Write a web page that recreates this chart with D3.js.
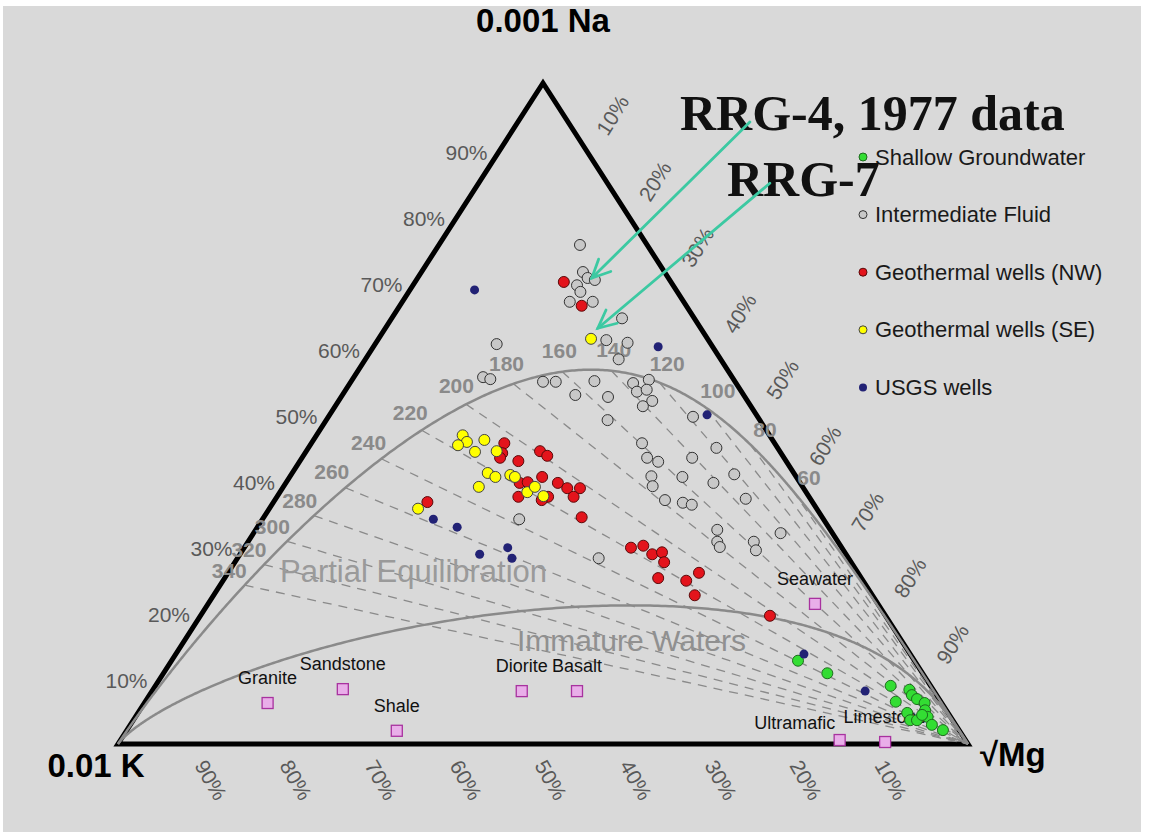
<!DOCTYPE html>
<html lang="en">
<head>
<meta charset="UTF-8" />
<title>Na-K-Mg Giggenbach diagram</title>
<script src="https://d3js.org/d3.v7.min.js"></script>
<style>
    body { margin: 0; background: #fff; }
    svg { display: block; font-family: "Liberation Sans", Arial, sans-serif; }
</style>
</head>
<body>
<svg id="chart" width="1150" height="839"></svg>
<script>
// ---- data, all as [Na%, K%, Mg%] in the 0.001Na / 0.01K / sqrt(Mg) system ----
const shallowGroundwater = [
    [12.6, 13.7, 73.7], [10.7, 11.2, 78.1], [8.8, 4.7, 86.5], [6.4, 5.3, 88.3],
    [8.2, 2.8, 89.0], [7.4, 2.9, 89.7], [6.8, 2.6, 90.6], [6.2, 2.0, 91.8],
    [5.1, 2.5, 92.4], [4.1, 2.7, 93.2], [4.7, 4.8, 90.5], [3.6, 5.0, 91.4],
    [3.6, 4.2, 92.2], [2.9, 2.8, 94.3], [2.1, 1.9, 96.0], [4.4, 3.2, 92.4]
];
const intermediateFluid = [
    [75.5, 7.9, 16.6], [71.4, 9.6, 19.0], [69.4, 11.3, 19.3], [70.5, 9.5, 20.0],
    [70.2, 8.8, 21.0], [68.4, 11.4, 20.2], [66.9, 13.4, 19.7], [66.9, 10.7, 22.4],
    [64.4, 8.5, 27.1], [61.1, 12.0, 26.9], [60.7, 9.7, 29.6], [58.2, 12.0, 29.8],
    [60.5, 25.2, 14.3], [55.5, 29.3, 15.2], [55.2, 28.6, 16.2], [54.8, 22.6, 22.6],
    [54.8, 21.1, 24.1], [54.9, 16.5, 28.6], [52.8, 19.8, 27.4], [52.5, 16.1, 31.4],
    [54.6, 12.1, 33.3], [55.1, 10.0, 34.9], [53.3, 12.3, 34.4], [53.6, 11.0, 35.4],
    [51.9, 11.2, 36.9], [51.1, 12.7, 36.2], [49.0, 17.9, 33.1], [49.5, 7.6, 42.9],
    [45.5, 15.6, 38.9], [43.3, 16.1, 40.6], [42.7, 15.1, 42.2], [43.3, 10.8, 45.9],
    [44.8, 7.2, 48.0], [40.5, 17.0, 42.5], [39.0, 17.6, 43.4], [40.4, 13.4, 46.2],
    [39.5, 10.2, 50.3], [40.8, 7.1, 52.1], [36.9, 17.2, 45.9], [36.5, 15.3, 48.2],
    [36.2, 14.4, 49.4], [37.1, 7.6, 55.3], [32.4, 13.3, 54.3], [30.6, 14.2, 55.2],
    [29.8, 14.3, 55.9], [30.6, 9.9, 59.5], [29.3, 10.3, 60.4], [31.9, 6.1, 62.0],
    [28.1, 29.4, 42.5], [34.0, 35.8, 30.2]
];
const geothermalNW = [
    [69.9, 12.6, 17.5], [66.3, 12.3, 21.4], [45.5, 31.8, 22.7], [44.0, 32.8, 23.2],
    [43.3, 33.4, 23.3], [42.8, 31.5, 25.7], [44.3, 28.2, 27.5], [43.6, 27.7, 28.7],
    [40.4, 29.9, 29.7], [39.5, 28.5, 32.0], [38.7, 27.8, 33.5], [38.7, 26.3, 35.0],
    [37.4, 27.7, 34.9], [39.5, 33.0, 27.5], [39.6, 32.0, 28.4], [37.4, 34.2, 28.4],
    [37.4, 30.7, 31.9], [36.9, 31.7, 31.4], [34.3, 28.3, 37.4], [36.6, 45.3, 18.1],
    [29.7, 24.8, 45.5], [30.0, 23.2, 46.8], [28.7, 22.8, 48.5], [29.0, 21.5, 49.5],
    [27.5, 22.0, 50.5], [25.1, 23.9, 51.0], [24.7, 20.8, 54.5], [25.9, 18.7, 55.4],
    [22.5, 20.9, 56.6], [19.4, 13.6, 67.0]
];
const geothermalSE = [
    [61.3, 13.7, 25.0], [46.7, 36.1, 17.2], [45.7, 36.1, 18.2], [45.2, 37.4, 17.4],
    [46.0, 33.9, 20.1], [44.2, 35.9, 19.9], [44.3, 33.3, 22.4], [41.0, 36.0, 23.0],
    [40.4, 35.4, 24.2], [40.7, 33.5, 25.8], [40.4, 33.1, 26.5], [38.9, 38.1, 23.0],
    [38.1, 32.8, 29.1], [38.9, 31.5, 29.6], [37.5, 31.2, 31.3], [35.6, 46.9, 17.5]
];
const usgsWells = [
    [68.7, 23.7, 7.6], [60.1, 6.4, 33.5], [49.8, 5.8, 44.4], [34.0, 45.9, 20.1],
    [32.8, 43.7, 23.5], [28.7, 43.1, 28.2], [29.7, 39.3, 31.0], [28.1, 39.6, 32.3],
    [13.6, 12.5, 73.9], [8.0, 8.1, 83.9]
];
const rockNames = ["Granite", "Sandstone", "Shale", "Diorite", "Basalt", "Seawater", "Ultramafic", "Limestone"];
const rockValues = [
    [6.2, 79.3, 14.5], [8.3, 69.4, 22.3], [2.0, 66.2, 31.8], [8.0, 48.5, 43.5],
    [8.0, 42.0, 50.0], [21.2, 7.4, 71.4], [0.6, 14.8, 84.6], [0.3, 9.6, 90.1]
];
// RRG-4 (1977) and RRG-7 samples the arrows point at
const arrowTargets = [[70.5, 9.0, 20.5], [62.9, 12.1, 25.0]];
const arrowLabels = ["RRG-4, 1977 data", "RRG-7"];

const isoTemps = [60, 80, 100, 120, 140, 160, 180, 200, 220, 240, 260, 280, 300, 320, 340];
const pctTicks = [10, 20, 30, 40, 50, 60, 70, 80, 90];
const seriesNames = ["Shallow Groundwater", "Intermediate Fluid", "Geothermal wells (NW)", "Geothermal wells (SE)", "USGS wells"];

// ---- layout ----
const svg = d3.select("#chart");
svg.append("rect").attr("x", 3).attr("y", 6).attr("width", 1138).attr("height", 826).attr("fill", "#d9d9d9");

const x = d3.scaleLinear().domain([0, 1]).range([118, 968]);
const y = d3.scaleLinear().domain([0, 1]).range([744, 83]);

// ternary -> screen: Na on top, K bottom left, Mg bottom right
function proj(d) {
    const s = d[0] + d[1] + d[2];
    const na = d[0] / s, mg = d[2] / s;
    return [x(mg + na / 2), y(na)];
}

// Giggenbach (1988) geothermometers, K = 1 mg/kg
function eqPoint(T, mi) {
    const logKNa = 1.75 - 1390 / T;
    const logK2Mg = mi == null ? 14.0 - 4410 / T : (mi + logKNa) / 0.315;
    const na = Math.pow(10, -logKNa) / 1000;
    const sqrtMg = Math.sqrt(Math.pow(10, -logK2Mg));
    return [na, 0.01, sqrtMg];
}

const line = d3.line();
const grey = "#8a8a8a";

// triangle
svg.append("path")
    .attr("d", line([proj([100, 0, 0]), proj([0, 100, 0]), proj([0, 0, 100])]) + "Z")
    .attr("fill", "none").attr("stroke", "#000").attr("stroke-width", 5)
    .attr("stroke-linejoin", "miter");

// full equilibrium and immature boundary curves
const sRange = d3.range(0.2, 5.0001, 0.005);
const fullEq = sRange.map(s => proj(eqPoint(1000 / s)));
const immature = sRange.map(s => proj(eqPoint(1000 / s, 1.97)));
fullEq.push(proj([0, 0, 100])); immature.push(proj([0, 0, 100]));
fullEq.unshift(proj([0, 100, 0])); immature.unshift(proj([0, 100, 0]));

// K-Na isotherms: from full equilibrium point to the Mg vertex
const g = svg.append("g");
isoTemps.forEach(t => {
    const p = proj(eqPoint(t + 273.15));
    const q = proj([0, 0, 100]);
    g.append("line").attr("x1", p[0]).attr("y1", p[1]).attr("x2", q[0]).attr("y2", q[1])
        .attr("stroke", grey).attr("stroke-width", 1.3).attr("stroke-dasharray", "9,7");
});

[fullEq, immature].forEach(c => {
    g.append("path").attr("d", line(c)).attr("fill", "none")
        .attr("stroke", grey).attr("stroke-width", 2.5);
});

// isotherm labels, pushed out along the curve normal
isoTemps.forEach(t => {
    const p = proj(eqPoint(t + 273.15));
    const a = proj(eqPoint(t + 273.15 - 2)), b = proj(eqPoint(t + 273.15 + 2));
    let tx = b[0] - a[0], ty = b[1] - a[1];
    const len = Math.hypot(tx, ty); tx /= len; ty /= len;
    let nx = ty, ny = -tx;
    if (ny > 0) { nx = -nx; ny = -ny; }
    g.append("text")
        .attr("x", p[0] + nx * 21).attr("y", p[1] + ny * 21)
        .attr("text-anchor", "middle").attr("dominant-baseline", "central")
        .attr("font-size", 21).attr("font-weight", "bold").attr("fill", grey)
        .text(t);
});

// region labels
g.append("text").attr("x", 280).attr("y", 582).attr("font-size", 31).attr("fill", "#9a9a9a")
    .text("Partial Equilibration");
g.append("text").attr("x", 517).attr("y", 651).attr("font-size", 30).attr("fill", "#909090")
    .text("Immature Waters");

// axis percentage labels
const pctColor = "#595959";
pctTicks.forEach(v => {
    const l = proj([v, 100 - v, 0]);
    svg.append("text").attr("x", l[0] - 13).attr("y", l[1] + 3)
        .attr("text-anchor", "end").attr("dominant-baseline", "central")
        .attr("font-size", 21).attr("fill", pctColor).text(v + "%");
    const r = proj([100 - v, 0, v]);
    svg.append("text").attr("transform", `translate(${r[0] + 27},${r[1] - 34}) rotate(-58)`)
        .attr("text-anchor", "middle").attr("dominant-baseline", "central")
        .attr("font-size", 21).attr("fill", pctColor).text(v + "%");
    const bt = proj([0, v, 100 - v]);
    svg.append("text").attr("transform", `translate(${bt[0] + 8},${bt[1] + 36}) rotate(60)`)
        .attr("text-anchor", "middle").attr("dominant-baseline", "central")
        .attr("font-size", 21).attr("fill", pctColor).text(v + "%");
});

// vertex titles
svg.append("text").attr("x", 543).attr("y", 32).attr("text-anchor", "middle")
    .attr("font-size", 33).attr("font-weight", "bold").text("0.001 Na");
svg.append("text").attr("x", 96).attr("y", 777).attr("text-anchor", "middle")
    .attr("font-size", 33).attr("font-weight", "bold").text("0.01 K");
svg.append("text").attr("x", 980).attr("y", 766)
    .attr("font-size", 33).attr("font-weight", "bold").text("√Mg");

// reference rocks
const rockLabelShift = { Ultramafic: [-45, 8] };
rockNames.forEach((n, i) => {
    const p = proj(rockValues[i]);
    svg.append("rect").attr("x", p[0] - 5.5).attr("y", p[1] - 5.5).attr("width", 11).attr("height", 11)
        .attr("fill", "#e9aee9").attr("stroke", "#a8329f").attr("stroke-width", 1.3);
    const sh = rockLabelShift[n] || [0, 0];
    svg.append("text").attr("x", p[0] + sh[0]).attr("y", p[1] - 19 + sh[1])
        .attr("text-anchor", "middle").attr("font-size", 18).attr("fill", "#111").text(n);
});

// samples
const styles = [
    { data: shallowGroundwater, fill: "#33dd33", stroke: "#1e6b1e", r: 5.5 },
    { data: intermediateFluid, fill: "#c8c8c8", stroke: "#333", r: 5.5 },
    { data: geothermalNW, fill: "#e3141c", stroke: "#5a0a0a", r: 5.5 },
    { data: geothermalSE, fill: "#ffff00", stroke: "#444", r: 5.5 },
    { data: usgsWells, fill: "#222275", stroke: "none", r: 4.5 }
];
styles.forEach(s => {
    svg.append("g").selectAll("circle").data(s.data).join("circle")
        .attr("cx", d => proj(d)[0]).attr("cy", d => proj(d)[1]).attr("r", s.r)
        .attr("fill", s.fill).attr("stroke", s.stroke).attr("stroke-width", 1);
});

// legend
const legend = svg.append("g").attr("transform", "translate(863,157)");
seriesNames.forEach((n, i) => {
    const gy = i * 57.6;
    legend.append("circle").attr("cx", 0).attr("cy", gy).attr("r", 4)
        .attr("fill", styles[i].fill).attr("stroke", styles[i].stroke).attr("stroke-width", 1);
    legend.append("text").attr("x", 12).attr("y", gy).attr("dominant-baseline", "central")
        .attr("font-size", 22).attr("fill", "#1a1a1a").text(n);
});

// annotations
svg.append("text").attr("x", 680).attr("y", 130)
    .attr("font-family", "'Liberation Serif', 'Times New Roman', serif")
    .attr("font-size", 50).attr("font-weight", "bold").attr("fill", "#111").text(arrowLabels[0]);
svg.append("text").attr("x", 727).attr("y", 196)
    .attr("font-family", "'Liberation Serif', 'Times New Roman', serif")
    .attr("font-size", 50).attr("font-weight", "bold").attr("fill", "#111").text(arrowLabels[1]);

const teal = "#3cc9a2";
const tails = [[158, -156], [172, -145]];
arrowTargets.forEach((d, i) => {
    const tip = proj(d);
    const tail = [tip[0] + tails[i][0], tip[1] + tails[i][1]];
    const ang = Math.atan2(tail[1] - tip[1], tail[0] - tip[0]);
    const head = 20, spread = Math.PI / 7;
    const ag = svg.append("g").attr("stroke", teal).attr("stroke-width", 2.8)
        .attr("stroke-linecap", "round").attr("fill", "none");
    ag.append("path").attr("d", line([tail, tip]));
    ag.append("path").attr("d", line([
        [tip[0] + head * Math.cos(ang - spread), tip[1] + head * Math.sin(ang - spread)],
        tip,
        [tip[0] + head * Math.cos(ang + spread), tip[1] + head * Math.sin(ang + spread)]
    ]));
});
</script>
</body>
</html>
